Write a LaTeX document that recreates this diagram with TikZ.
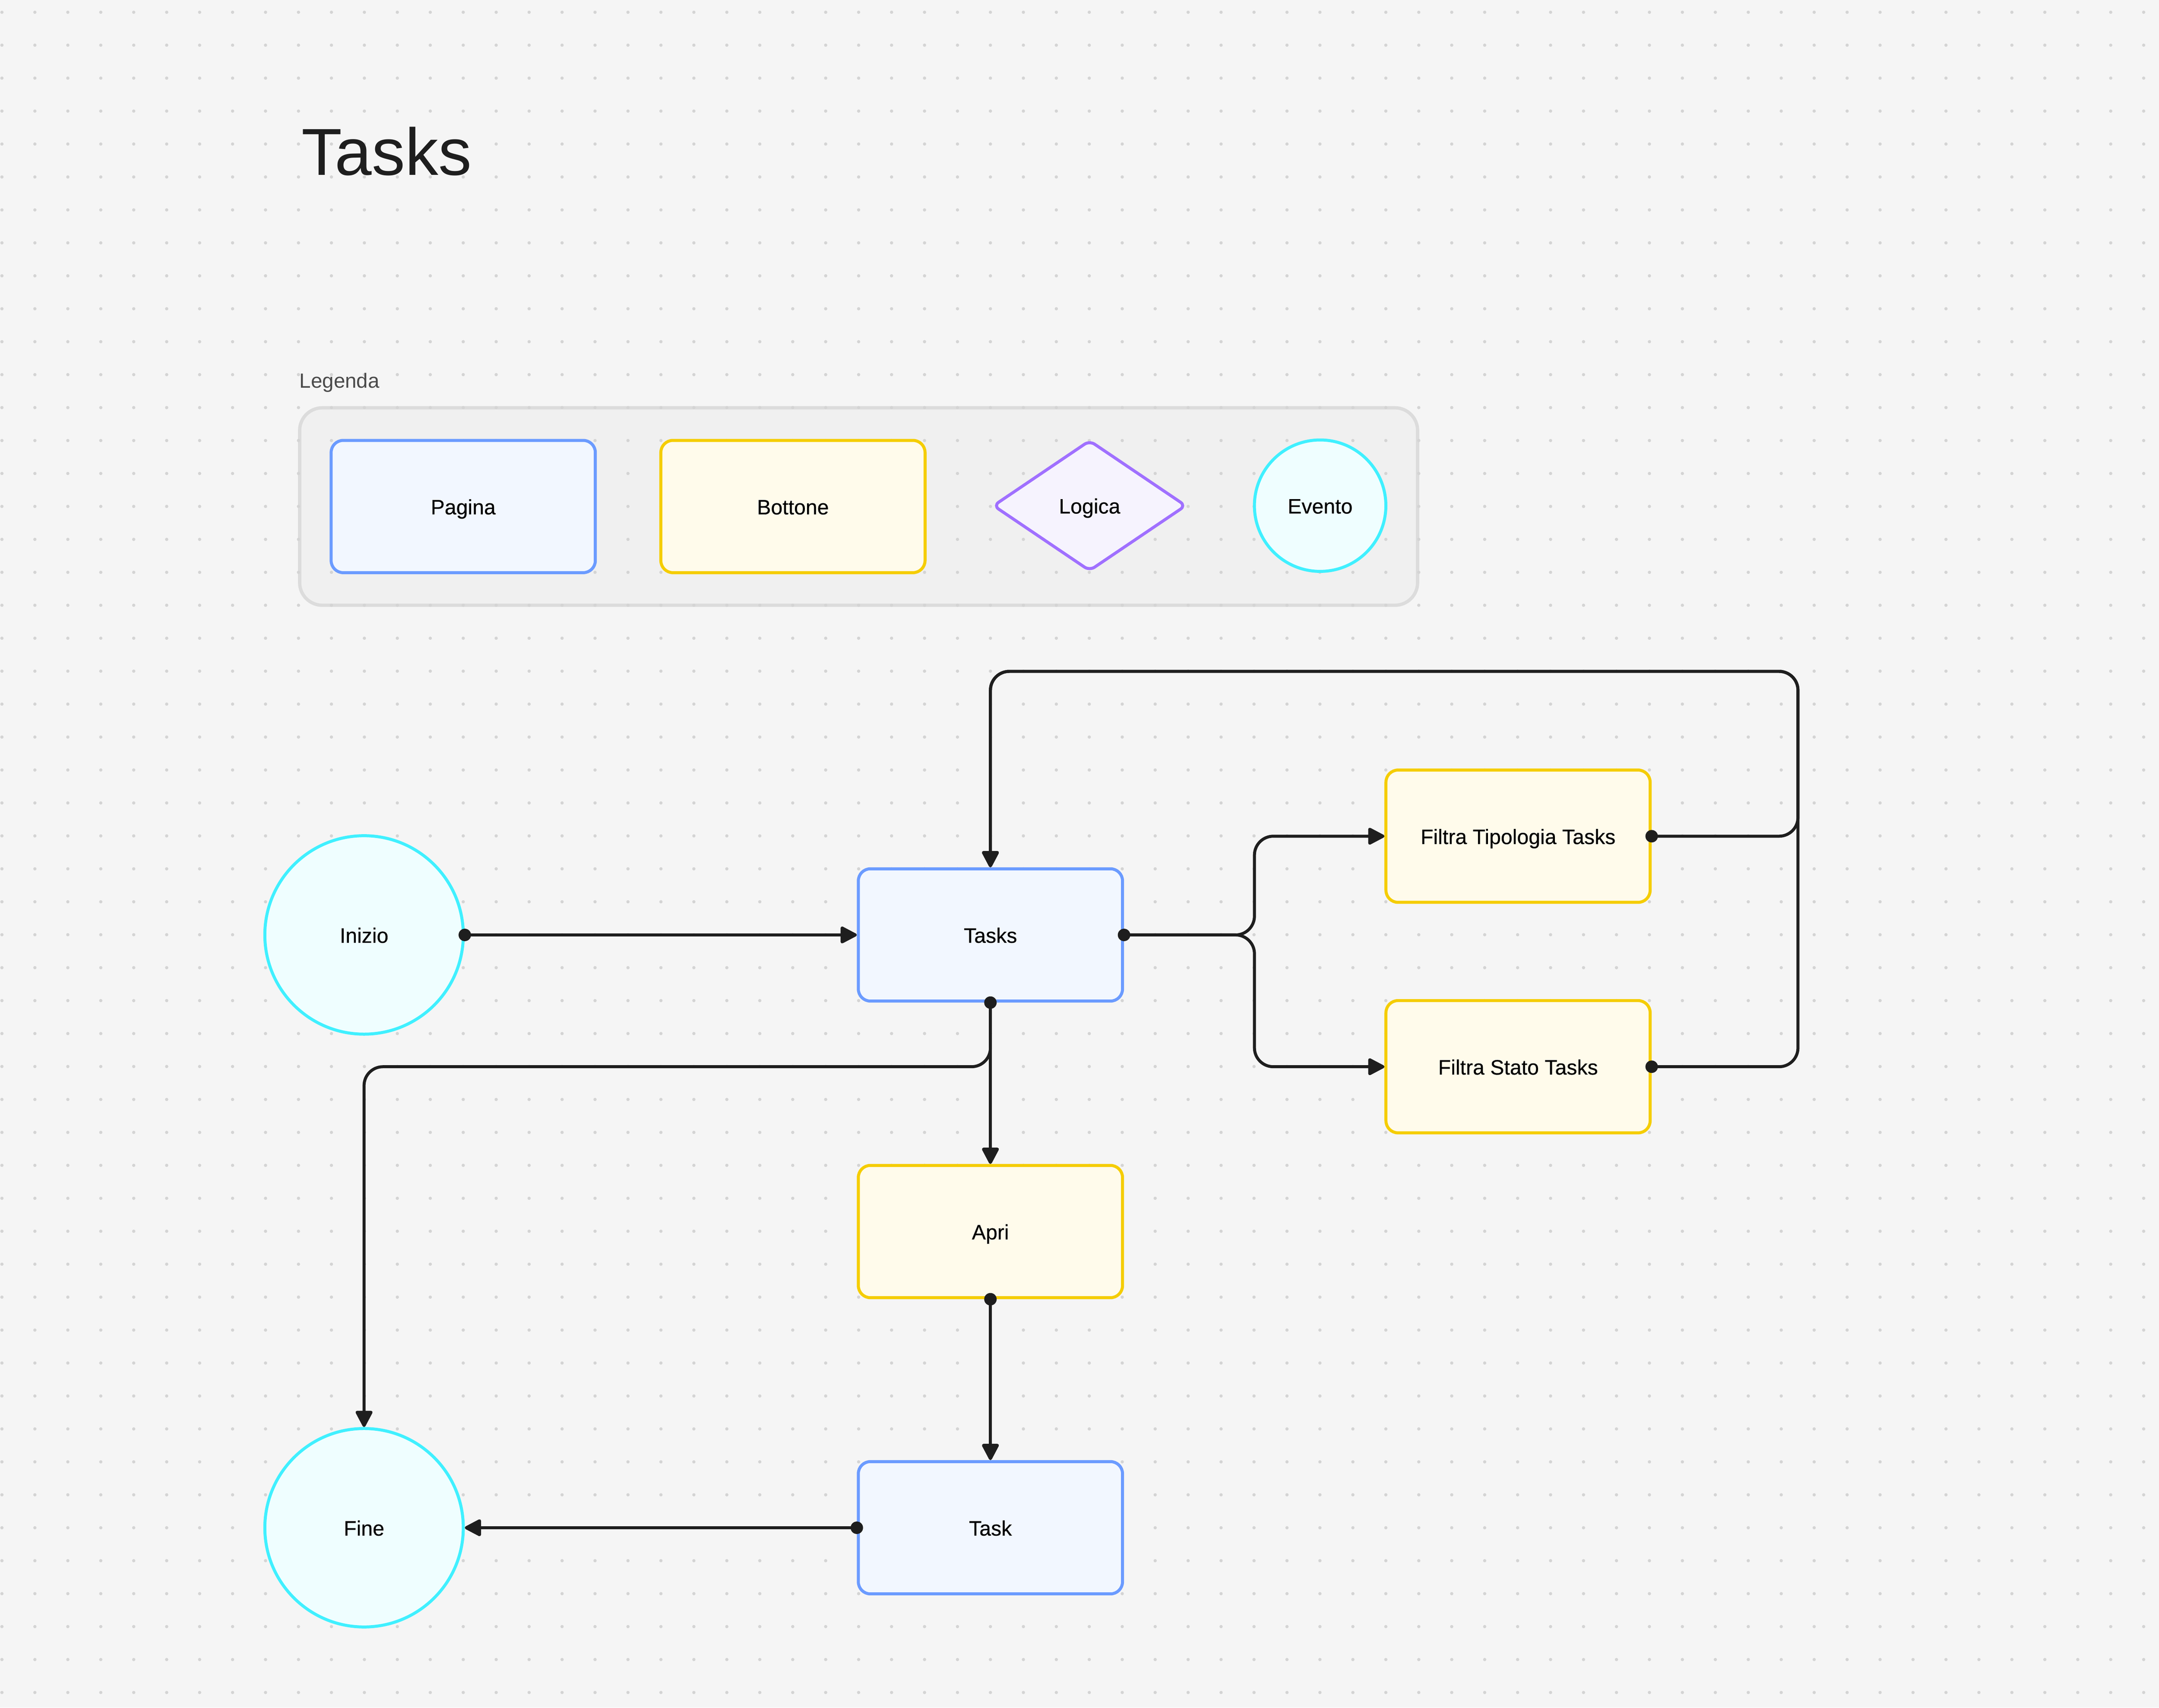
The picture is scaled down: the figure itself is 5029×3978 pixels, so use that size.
\documentclass[tikz,border=0pt]{standalone}
\usepackage{fontspec}
\setmainfont{Liberation Sans}
\newfontfamily\nodefont{Liberation Sans}[FakeBold=0.35]
\usetikzlibrary{arrows.meta,shapes.geometric}
\definecolor{bgc}{HTML}{F5F5F5}
\definecolor{dotc}{HTML}{D4D4D4}
\definecolor{legfill}{HTML}{F0F0F0}
\definecolor{legline}{HTML}{DCDCDC}
\definecolor{pageline}{HTML}{6B9BFF}
\definecolor{pagefill}{HTML}{F2F7FF}
\definecolor{btnline}{HTML}{F5CD00}
\definecolor{btnfill}{HTML}{FFFBEB}
\definecolor{logline}{HTML}{A070FF}
\definecolor{logfill}{HTML}{F6F3FE}
\definecolor{evline}{HTML}{40F0FF}
\definecolor{evfill}{HTML}{EFFEFF}
\definecolor{ink}{HTML}{1E1E1E}
\definecolor{legtext}{HTML}{4A4A4A}
\tikzset{
  base/.style={line width=2pt, font=\nodefont\fontsize{13.8}{16}\selectfont, text=black, inner sep=0pt, text height=10.4pt, text depth=0pt},
  pagebox/.style={base, rectangle, rounded corners=8pt, draw=pageline, fill=pagefill, minimum width=6.15cm, minimum height=3.08cm},
  btnbox/.style={base, rectangle, rounded corners=8pt, draw=btnline, fill=btnfill, minimum width=6.15cm, minimum height=3.08cm},
  logbox/.style={base, diamond, rounded corners=4pt, draw=logline, fill=logfill, minimum width=4.5cm, minimum height=3.05cm},
  evcircle/.style={base, circle, draw=evline, fill=evfill},
  conn/.style={draw=ink, line width=2pt, rounded corners=12.5pt, -{Triangle[length=12pt,width=12pt,round]}},
  startdot/.style={fill=ink},
}
\begin{document}
\begin{tikzpicture}[x=0.01cm, y=-0.01cm]
\useasboundingbox (0,0) rectangle (5029,3978);
\fill[bgc] (0,0) rectangle (5029,3978);

% legend box
\draw[legline, fill=legfill, line width=2.2pt, rounded corners=15pt] (698,950) rectangle (3302,1410);

% dot grid
\foreach \i in {0,...,65}{
  \foreach \j in {0,...,51}{
    \fill[dotc] ({4.5+76.75*\i},{28.5+76.75*\j}) circle (3.8);
  }
}

% title and legend label
\node[anchor=base west, inner sep=0pt, text=ink, font=\fontsize{44}{50}\selectfont] (title) at (702,408) {Tasks};
\node[anchor=base west, inner sep=0pt, text=legtext, font=\fontsize{13.6}{16}\selectfont] (legenda) at (697,904) {Legenda};

% legend items
\node[pagebox] (lpagina) at (1079,1180) {Pagina};
\node[btnbox] (lbottone) at (1847,1180) {Bottone};
\node[logbox] (llogica) at (2538,1178) {Logica};
\node[evcircle, minimum size=3.06cm] (levento) at (3075,1178) {Evento};

% main nodes
\node[evcircle, minimum size=4.62cm] (inizio) at (848,2178) {Inizio};
\node[pagebox] (tasks) at (2307,2178) {Tasks};
\node[btnbox] (ftip) at (3536,1948) {Filtra Tipologia Tasks};
\node[btnbox] (fstato) at (3536,2485) {Filtra Stato Tasks};
\node[btnbox] (apri) at (2307,2869) {Apri};
\node[pagebox] (task) at (2307,3559) {Task};
\node[evcircle, minimum size=4.62cm] (fine) at (848,3559) {Fine};

% waypoints
\coordinate (split) at (2922,2178);
\coordinate (rtop) at (4188,1564);
\coordinate (ltop) at (2307,1564);
\coordinate (dsplit) at (2307,2485);
\coordinate (dleft) at (848,2485);

% connectors
\draw[conn] (inizio.east) -- (tasks.west);
\draw[conn] (tasks.east) -- (split) |- (ftip.west);
\draw[conn] (tasks.east) -- (split) |- (fstato.west);
\draw[conn] (ftip.east) -| (rtop) -- (ltop) -- (tasks.north);
\draw[conn] (fstato.east) -| (rtop) -- (ltop) -- (tasks.north);
\draw[conn] (tasks.south) -- (apri.north);
\draw[conn] (tasks.south) -- (dsplit) -- (dleft) -- (fine.north);
\draw[conn] (apri.south) -- (task.north);
\draw[conn] (task.west) -- (fine.east);

% start dots
\foreach \a in {inizio.east, tasks.east, ftip.east, fstato.east, tasks.south, apri.south, task.west}{
  \fill[startdot] (\a) circle (14.5);
}
\end{tikzpicture}
\end{document}
